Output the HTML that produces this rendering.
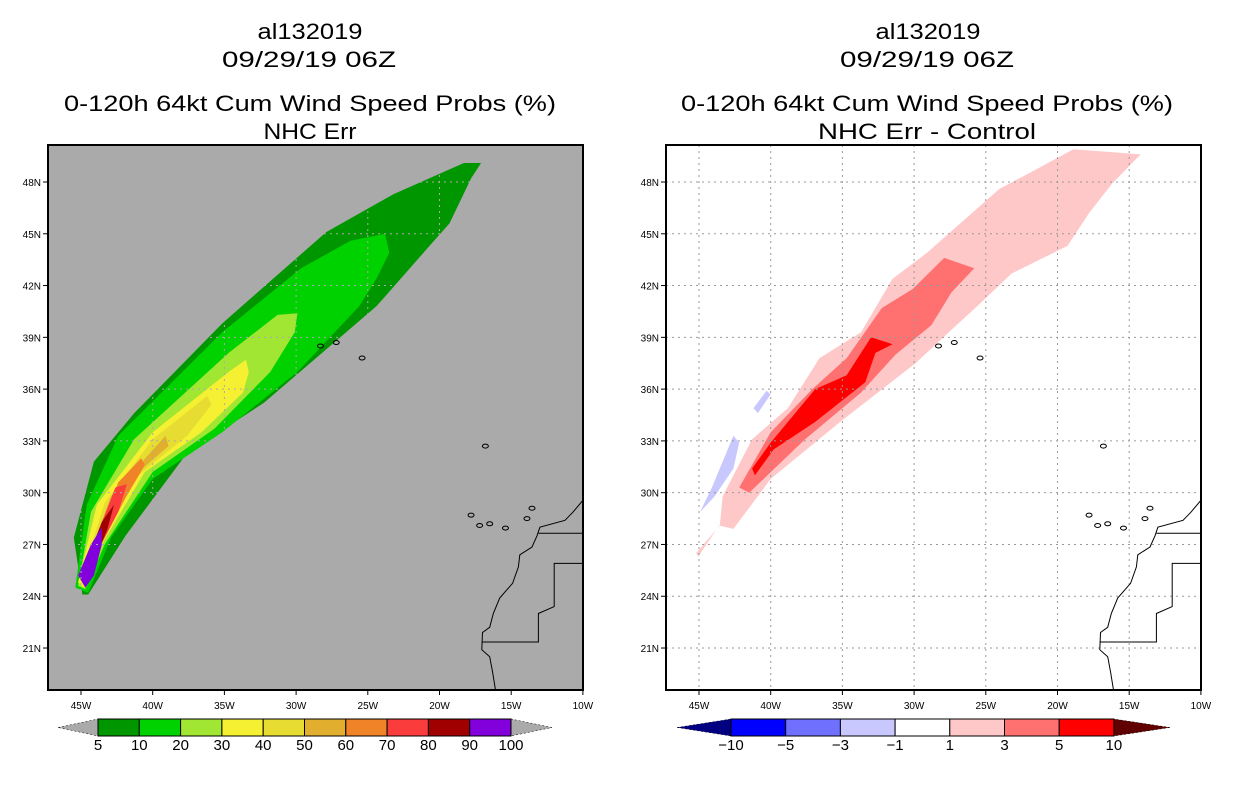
<!DOCTYPE html>
<html><head><meta charset="utf-8">
<style>
html,body{margin:0;padding:0;background:#fff;}
svg{display:block;font-family:"Liberation Sans",sans-serif;}
</style></head>
<body>
<svg id="fig" width="1236" height="800" viewBox="0 0 1236 800" xmlns="http://www.w3.org/2000/svg"></svg>
<script>
// ---- data ----
const lonTicks=[45,40,35,30,25,20,15,10];
const latTicks=[48,45,42,39,36,33,30,27,24,21];
// left panel probability contours (lon W, lat N), level -> polygon
const probLevels=[5,10,20,30,40,50,60,70,80,90];
const probColors=["#009600","#00d200","#a0e632","#f5f032","#e6dc32","#e1af2d","#f08228","#fa3c3c","#a00000","#8200dc"];
const probPolys=[
 [[44.9,24.1],[45.5,27.4],[44.1,31.8],[41.3,34.6],[35.15,39.8],[27.9,45.1],[23.2,47.3],[18.3,49.1],[17.1,49.1],[17.8,48.2],[19.3,45.6],[20.7,44.3],[24.4,40.8],[32.25,35.2],[37.6,32.3],[41.9,27.5],[44.5,24.1]],
 [[45.4,24.5],[44.6,29.3],[42.4,33.3],[35.15,39.3],[29.65,43.0],[26.2,44.6],[23.8,45.0],[23.5,43.9],[24.4,42.4],[25.6,40.8],[29.9,37.0],[35.15,33.5],[40.0,30.8],[42.9,27.4],[44.5,24.2]],
 [[45.2,24.6],[44.3,28.9],[41.3,33.1],[34.7,38.1],[31.3,40.3],[29.9,40.4],[30.1,39.3],[31.8,37.0],[35.7,33.7],[40.0,31.2],[43.35,27.0],[44.7,24.4]],
 [[45.2,24.8],[43.9,29.3],[40.0,33.5],[34.7,37.0],[33.5,37.7],[33.3,37.0],[33.7,35.8],[36.6,33.5],[40.55,31.2],[43.55,27.0],[44.8,24.5]],
 [[45.0,25.1],[43.35,29.4],[40.0,33.1],[36.2,35.6],[35.9,35.1],[37.6,33.3],[41.0,31.0],[43.9,27.0],[44.8,24.6]],
 [[44.9,25.2],[42.9,29.8],[39.1,33.3],[38.9,32.7],[41.0,31.2],[43.9,27.1]],
 [[44.8,25.4],[42.4,30.6],[40.8,32.0],[40.55,31.6],[41.9,29.7],[44.1,26.2]],
 [[44.8,25.6],[42.6,30.3],[41.8,30.5],[42.4,28.9],[44.1,26.2],[44.7,25.1]],
 [[44.9,25.4],[43.55,28.3],[42.7,29.3],[43.15,27.9],[44.1,26.0],[44.6,24.6]],
 [[45.2,25.2],[44.3,27.0],[43.55,28.0],[43.55,27.0],[44.1,25.2],[44.7,24.5]]
];
// right panel difference contours
const diffLevels=[1,3,5,-1,-1];
const diffColors=["#ffc8c8","#ff7070","#ff0000","#c8c8ff","#c8c8ff"];
const diffPolys=[
 [[45.2,26.5],[43.55,28.1],[43.35,29.8],[41.3,33.1],[38.8,34.9],[36.6,37.8],[33.7,39.3],[31.5,42.4],[29.1,43.9],[24.05,47.6],[22.0,48.5],[18.9,49.9],[14.2,49.6],[16.2,47.9],[17.8,46.2],[19.3,44.3],[23.2,42.7],[25.6,40.8],[27.05,39.7],[29.9,37.5],[35.15,34.1],[40.0,30.8],[42.6,27.9],[43.6,28.1],[45.05,26.3]],
 [[42.2,30.3],[40.0,33.5],[37.1,36.0],[34.7,37.8],[32.25,40.7],[30.1,41.8],[27.9,43.6],[25.8,43.0],[27.4,41.6],[28.8,39.7],[31.3,38.0],[33.7,35.8],[37.6,33.1],[41.5,30.0]],
 [[41.3,31.4],[40.0,32.9],[36.9,36.0],[34.7,36.8],[33.0,39.0],[31.5,38.6],[32.7,38.1],[33.4,36.4],[36.9,34.1],[39.8,32.5],[41.1,31.0]],
 [[44.8,29.1],[44.1,30.3],[42.6,33.3],[42.2,32.9],[42.6,31.4],[43.9,29.8],[44.9,28.9]],
 [[40.9,34.6],[40.0,35.7],[40.3,35.9],[41.2,34.9]]
];
const coast=[[10.0,29.56],[10.7,28.87],[11.25,28.4],[13.0,28.0],[13.2,27.5],[13.55,26.85],[14.4,26.4],[14.5,25.7],[14.9,24.75],[15.8,23.9],[16.25,23.0],[16.5,22.2],[17.0,21.9],[17.05,20.9],[16.5,20.5],[16.3,19.6],[16.1,18.6]];
const border1=[[13.1,27.65],[10.0,27.65]];
const border2=[[10.0,25.9],[12.0,25.9],[12.0,23.4],[13.1,23.0],[13.1,21.35],[17.05,21.35]];
const islands=[[28.3,38.5],[27.2,38.7],[25.4,37.8],[16.8,32.7],[17.8,28.7],[17.2,28.1],[16.5,28.2],[15.4,27.95],[13.9,28.5],[13.55,29.1]];
const probCbarLabels=["5","10","20","30","40","50","60","70","80","90","100"];
const diffCbarLabels=["-10","-5","-3","-1","1","3","5","10"];
const diffCbarColors=["#0000ff","#7070ff","#c8c8ff","#ffffff","#ffc8c8","#ff7070","#ff0000"];

// ---- axes ----
const NS="http://www.w3.org/2000/svg";
const svg=document.getElementById('fig');
const PX0=48,PW=535,PY0=145,PH=545;
function xOf(off,lon){return off+81+(45-lon)*14.34;}
function yOf(lat){return 182+(48-lat)*17.26;}
function mk(tag,attrs,parent){const e=document.createElementNS(NS,tag);for(const k in attrs)e.setAttribute(k,attrs[k]);(parent||svg).appendChild(e);return e;}
function pts(off,arr){return arr.map(p=>xOf(off,p[0]).toFixed(1)+","+yOf(p[1]).toFixed(1)).join(" ");}

function panel(off,bg,polys,colors,name,gc){
  const g=mk('g',{});
  
  
  const clipId='clip'+off;
  const cp=mk('clipPath',{id:clipId},g);
  mk('rect',{x:PX0+off,y:PY0,width:PW,height:PH},cp);
  const bgR=mk('rect',{x:PX0+off,y:PY0,width:PW,height:PH,fill:bg},g);
  
  
  const inner=mk('g',{'clip-path':'url(#'+clipId+')'},g);
  polys.forEach((p,i)=>{
    const el=mk('polygon',{points:pts(off,p),fill:colors[i]},inner);
    
    
  });
  lonTicks.forEach(l=>{const x=xOf(off,l);const ln=mk('line',{x1:x,y1:PY0,x2:x,y2:PY0+PH,stroke:gc,'stroke-width':1,'stroke-dasharray':'2,4'},inner);
    });
  latTicks.forEach(l=>{const y=yOf(l);const ln=mk('line',{x1:PX0+off,y1:y,x2:PX0+off+PW,y2:y,stroke:gc,'stroke-width':1,'stroke-dasharray':'2,4'},inner);
    });
  const c=mk('polyline',{points:pts(off,coast),fill:'none',stroke:'#000','stroke-width':1},inner);
  
  [border1,border2].forEach(b=>{const e=mk('polyline',{points:pts(off,b),fill:'none',stroke:'#000','stroke-width':1},inner);
    });
  islands.forEach(p=>{const e=mk('ellipse',{cx:xOf(off,p[0]),cy:yOf(p[1]),rx:3,ry:2,fill:'none',stroke:'#000','stroke-width':1},inner);
    });
  const fr=mk('rect',{x:PX0+off,y:PY0,width:PW,height:PH,fill:'none',stroke:'#000','stroke-width':2},g);
  
  lonTicks.forEach(l=>{const x=xOf(off,l);
    mk('line',{x1:x,y1:PY0+PH,x2:x,y2:PY0+PH+5,stroke:'#000'},g);
    const t=mk('text',{x:x,y:PY0+PH+19,'font-size':10,'text-anchor':'middle'},g);t.textContent=l+'W';
    });
  latTicks.forEach(l=>{const y=yOf(l);
    mk('line',{x1:PX0+off-5,y1:y,x2:PX0+off,y2:y,stroke:'#000'},g);
    const t=mk('text',{x:PX0+off-7,y:y+4,'font-size':10,'text-anchor':'end'},g);t.textContent=l+'N';
    });
}
panel(0,'#aaaaaa',probPolys,probColors,'prob-map','#aaaaaa');
panel(618,'#ffffff',diffPolys,diffColors,'diff-map','#9a9a9a');

function title(txt,cx,y,w,name){const t=mk('text',{x:cx,y:y,'font-size':22,'text-anchor':'middle',textLength:w,lengthAdjust:'spacingAndGlyphs'});t.textContent=txt;
  }
title('al132019',310,39,105,'storm-id');
title('09/29/19 06Z',309,67,174,'date-label');
title('0-120h 64kt Cum Wind Speed Probs (%)',310,111,492,'chart-title');
title('NHC Err',310,139,93,'chart-subtitle');
title('al132019',928,39,105,'storm-id-right');
title('09/29/19 06Z',927,67,174,'date-label-right');
title('0-120h 64kt Cum Wind Speed Probs (%)',927,111,492,'chart-title-right');
title('NHC Err - Control',927,139,218,'chart-subtitle-right');

function cbar(x0,bw,colors,labels,lc,rc,ltip,rtip,name){
  const g=mk('g',{});
  const y0=719,h=17,n=colors.length,x1=x0+n*bw;
  mk('polygon',{points:`${ltip},${y0+h/2} ${x0},${y0} ${x0},${y0+h}`,fill:lc,stroke:'#000','stroke-width':0.5,'stroke-dasharray':'2,2'},g);
  mk('polygon',{points:`${rtip},${y0+h/2} ${x1},${y0} ${x1},${y0+h}`,fill:rc,stroke:'#000','stroke-width':0.5,'stroke-dasharray':'2,2'},g);
  colors.forEach((c,i)=>{const r=mk('rect',{x:x0+i*bw,y:y0,width:bw,height:h,fill:c,stroke:'#000','stroke-width':1},g);
    });
  labels.forEach((l,i)=>{const t=mk('text',{x:x0+i*bw,y:750,'font-size':15,'text-anchor':'middle'},g);t.textContent=l.replace('-','\u2212');
    });
}
cbar(98,41.3,probColors,probCbarLabels,'#aaaaaa','#aaaaaa',58,552,'prob-colorbar');
cbar(731,54.7,diffCbarColors,diffCbarLabels,'#000080','#600000',677,1170,'diff-colorbar');
</script>
</body></html>
